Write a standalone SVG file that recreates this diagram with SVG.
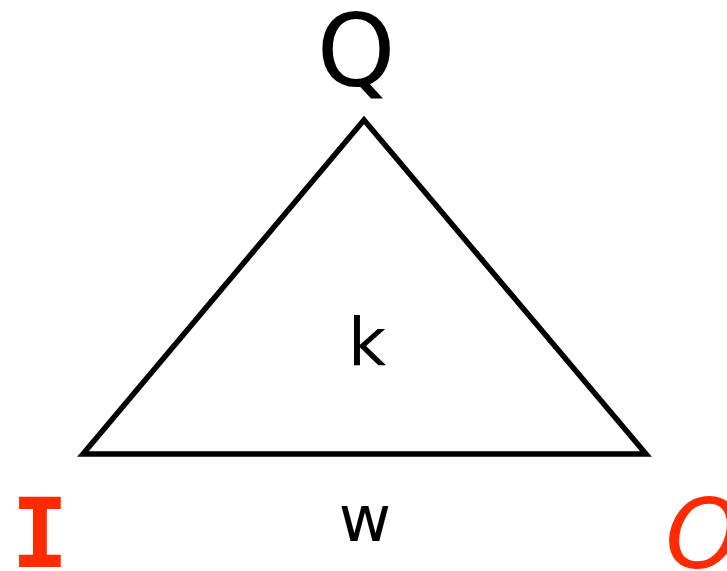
<svg xmlns="http://www.w3.org/2000/svg" width="727" height="571" viewBox="0 0 727 571">
<style>
.lbl{font-family:"DejaVu Sans","Noto Sans",sans-serif;text-anchor:middle}
.red{fill:#ff2a00}
</style>
<rect width="727" height="571" fill="#fff"/>
<g id="connectors">
<polygon points="364,120 83,454 646,454" fill="none" stroke="#000" stroke-width="5.5" stroke-linejoin="miter"/>
</g>
<g id="node-Q"><text class="lbl" x="356" y="86" font-size="100">Q</text></g>
<g id="node-k"><text class="lbl" x="367" y="365" font-size="66">k</text></g>
<g id="node-w"><text class="lbl" x="365" y="541" font-size="64">w</text></g>
<g id="node-I"><text class="lbl red" x="40" y="567" font-size="96" font-weight="bold" style="font-family:'DejaVu Sans Mono',monospace">I</text></g>
<g id="node-O"><text class="lbl red" x="703" y="568" font-size="96" font-style="italic">O</text></g>
</svg>
